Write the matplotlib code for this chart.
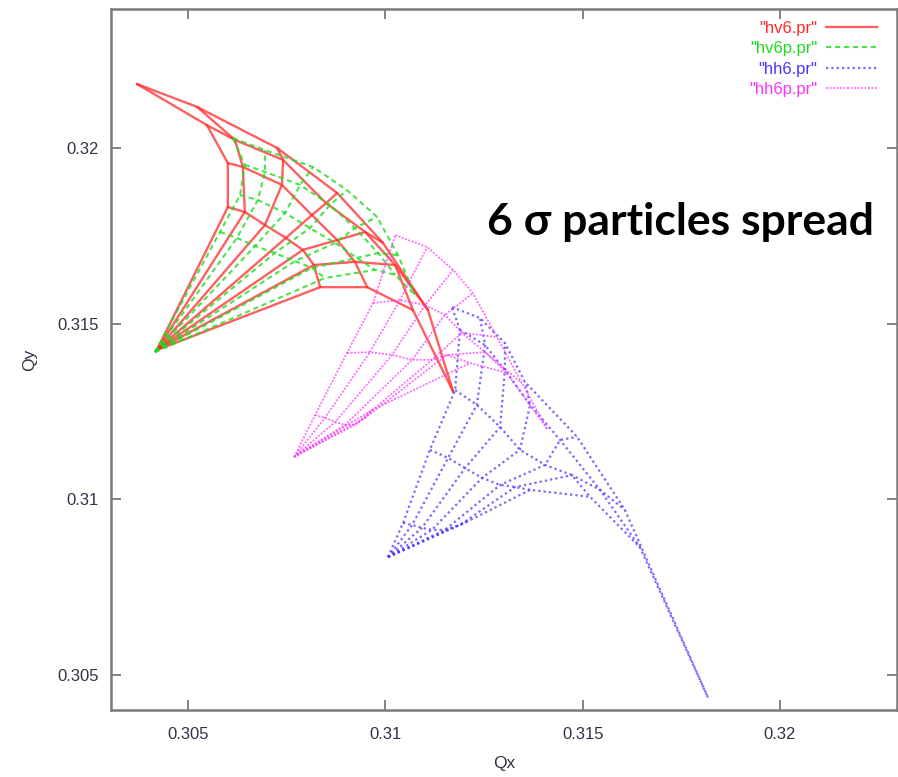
import matplotlib
matplotlib.use('Agg')
import matplotlib.pyplot as plt
from matplotlib.lines import Line2D

# ---------------- axis ticks ----------------
xticks = [0.305, 0.31, 0.315, 0.32]
xtick_labels = ['0.305', '0.31', '0.315', '0.32']
yticks = [0.305, 0.31, 0.315, 0.32]
ytick_labels = ['0.305', '0.31', '0.315', '0.32']

series_names = ['"hv6.pr"', '"hv6p.pr"', '"hh6.pr"', '"hh6p.pr"']

# ---------------- footprint data (Qx, Qy) ----------------
# each footprint: zero-amplitude tune + amplitude levels (rows) x angles (columns)
hv6_center = (0.30421, 0.31425)
hv6_qx = [
    [0.30601, 0.30644, 0.30695, 0.30748, 0.30791, 0.30819, 0.30835],
    [0.30601, 0.30639, 0.30738, 0.30814, 0.30878, 0.30923, 0.30954],
    [0.30548, 0.30619, 0.30741, 0.30850, 0.30949, 0.31025, 0.31070],
    [0.30371, 0.30523, 0.30726, 0.30878, 0.30994, 0.31108, 0.31172],
]
hv6_qy = [
    [0.31832, 0.31818, 0.31781, 0.31744, 0.31710, 0.31667, 0.31604],
    [0.31957, 0.31946, 0.31895, 0.31809, 0.31738, 0.31676, 0.31604],
    [0.32065, 0.32023, 0.31966, 0.31843, 0.31761, 0.31667, 0.31539],
    [0.32182, 0.32117, 0.32000, 0.31872, 0.31730, 0.31539, 0.31306],
]

hv6p_center = (0.30416, 0.31419)
hv6p_qx = [
    [0.30581, 0.30624, 0.30670, 0.30720, 0.30771, 0.30814, 0.30847],
    [0.30632, 0.30677, 0.30746, 0.30809, 0.30873, 0.30928, 0.30974],
    [0.30644, 0.30695, 0.30784, 0.30860, 0.30923, 0.30982, 0.31025],
    [0.30614, 0.30695, 0.30817, 0.30903, 0.30979, 0.31032, 0.31075],
]
hv6p_qy = [
    [0.31761, 0.31744, 0.31721, 0.31701, 0.31678, 0.31659, 0.31630],
    [0.31866, 0.31852, 0.31815, 0.31772, 0.31730, 0.31687, 0.31653],
    [0.31952, 0.31932, 0.31895, 0.31838, 0.31772, 0.31701, 0.31639],
    [0.32028, 0.31994, 0.31946, 0.31880, 0.31804, 0.31695, 0.31582],
]

hh6_center = (0.31007, 0.30836)
hh6_qx = [
    [0.31045, 0.31068, 0.31093, 0.31118, 0.31151, 0.31189, 0.31215],
    [0.31113, 0.31159, 0.31202, 0.31245, 0.31291, 0.31329, 0.31367],
    [0.31177, 0.31232, 0.31291, 0.31341, 0.31405, 0.31473, 0.31519],
    [0.31189, 0.31253, 0.31303, 0.31367, 0.31443, 0.31544, 0.31645],
    [0.31169, 0.31240, 0.31303, 0.31354, 0.31486, 0.31607, 0.31818],
]
hh6_qy = [
    [0.30933, 0.30927, 0.30919, 0.30913, 0.30913, 0.30927, 0.30941],
    [0.31141, 0.31118, 0.31089, 0.31061, 0.31041, 0.31035, 0.31027],
    [0.31311, 0.31269, 0.31206, 0.31141, 0.31098, 0.31069, 0.31007],
    [0.31482, 0.31439, 0.31368, 0.31269, 0.31169, 0.31027, 0.30864],
    [0.31547, 0.31516, 0.31445, 0.31334, 0.31178, 0.30970, 0.30435],
]

hh6p_center = (0.30769, 0.31121)
hh6p_qx = [
    [0.30822, 0.30847, 0.30873, 0.30898, 0.30923, 0.30949, 0.30966],
    [0.30903, 0.30961, 0.31017, 0.31068, 0.31118, 0.31156, 0.31215],
    [0.30969, 0.31037, 0.31101, 0.31151, 0.31194, 0.31253, 0.31308],
    [0.31025, 0.31106, 0.31172, 0.31222, 0.31283, 0.31346, 0.31412],
]
hh6p_qy = [
    [0.31240, 0.31232, 0.31220, 0.31212, 0.31212, 0.31232, 0.31254],
    [0.31417, 0.31419, 0.31411, 0.31397, 0.31397, 0.31411, 0.31388],
    [0.31559, 0.31567, 0.31553, 0.31525, 0.31474, 0.31419, 0.31360],
    [0.31752, 0.31718, 0.31653, 0.31587, 0.31462, 0.31331, 0.31197],
]

# ---------------- figure ----------------
W, H = 898, 777
fig = plt.figure(figsize=(W / 100, H / 100), dpi=100)
ax = fig.add_axes([111 / W, 67 / H, 786 / W, 701 / H])

styles = [
    dict(color='#ff2a2a', lw=1.7, alpha=0.75, ls='-'),
    dict(color='#1fdc1f', lw=1.5, alpha=0.8, ls=(0, (2.5, 1.8))),
    dict(color='#4a36ff', lw=1.6, alpha=0.75, ls=(0, (1, 1.4))),
    dict(color='#ff33ff', lw=1.2, alpha=0.75, ls=(0, (1.2, 0.9))),
]


def draw_footprint(center, qx, qy, style):
    nlev = len(qx)
    nang = len(qx[0])
    for j in range(nang):
        xs = [center[0]] + [qx[i][j] for i in range(nlev)]
        ys = [center[1]] + [qy[i][j] for i in range(nlev)]
        ax.plot(xs, ys, solid_capstyle='round', **style)
    for i in range(nlev):
        ax.plot(qx[i], qy[i], **style)


draw_footprint(hv6_center, hv6_qx, hv6_qy, styles[0])
draw_footprint(hv6p_center, hv6p_qx, hv6p_qy, styles[1])
draw_footprint(hh6_center, hh6_qx, hh6_qy, styles[2])
draw_footprint(hh6p_center, hh6p_qx, hh6p_qy, styles[3])

ax.set_xlim(0.303049, 0.322966)
ax.set_ylim(0.304005, 0.323956)

ax.set_xticks(xticks)
ax.set_xticklabels(xtick_labels)
ax.set_yticks(yticks)
ax.set_yticklabels(ytick_labels)

fam = ['Liberation Sans', 'DejaVu Sans']
for lab in ax.get_xticklabels() + ax.get_yticklabels():
    lab.set_fontfamily(fam)
    lab.set_fontsize(12)
    lab.set_color('#333344')

ax.tick_params(direction='in', length=7, width=1.3, color='#777777',
               top=True, right=True)
ax.tick_params(axis='x', pad=12)
ax.tick_params(axis='y', pad=9)

for s in ax.spines.values():
    s.set_color('#7a7a7a')
    s.set_linewidth(1.8)

ax.set_xlabel('Qx', fontfamily=fam, fontsize=12.5, color='#333344', labelpad=10)
ax.set_ylabel('Qy', fontfamily=fam, fontsize=12.5, color='#333344', labelpad=14)

handles = [Line2D([], [], **st) for st in styles]
leg = ax.legend(handles, series_names, loc='upper right', markerfirst=False,
                bbox_to_anchor=(0.9835, 0.9924), borderaxespad=0.0,
                borderpad=0.4, frameon=False, handlelength=3.1,
                handletextpad=0.5, labelspacing=0.32,
                prop=dict(family=fam, size=12),
                labelcolor='linecolor')

fig.text(487 / W, 1 - 235 / H, '6 \u03c3 particles spread',
         fontfamily=['Lato', 'DejaVu Sans'], fontweight='bold', fontsize=32,
         color='black', va='baseline', ha='left')

fig.savefig('out.png', dpi=100, facecolor='white')
